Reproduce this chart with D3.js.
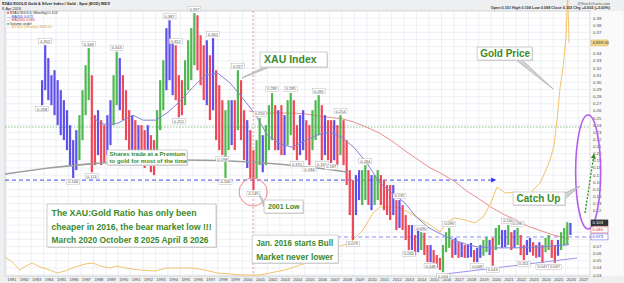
<!DOCTYPE html>
<html>
<head>
<meta charset="utf-8">
<script src="https://cdn.jsdelivr.net/npm/d3@7"></script>
<style>
  body { margin: 0; background: #fff; }
  svg { display: block; font-family: "Liberation Sans", Arial, sans-serif; }
</style>
</head>
<body>
<div id="chart"></div>
<script>
// ---- data ----
// quarterly bars of the $XAU:$GOLD ratio, the first one is 1983 Q4
const firstQuarter = 1983.75

const ratioHigh = [
  .303, .352, .334, .310, .317, .303, .289, .275, .261, .240,
  .219, .233, .254, .289, .324, .348, .310, .254, .261, .247,
  .240, .254, .275, .310, .343, .334, .310, .289, .261, .254,
  .247, .240, .240, .233, .240, .226, .219, .261, .303, .331,
  .376, .387, .359, .352, .310, .303, .331, .359, .376, .397,
  .394, .366, .352, .359, .338, .362, .317, .296, .275, .261,
  .275, .275, .275, .317, .303, .261, .247, .233, .205, .219,
  .250, .226, .240, .268, .285, .268, .261, .268, .254, .275,
  .285, .275, .240, .254, .261, .247, .240, .261, .275, .282,
  .268, .254, .247, .247, .247, .240, .254, .247, .219, .177,
  .163, .170, .177, .177, .184, .177, .170, .170, .177, .170,
  .163, .156, .156, .156, .135, .135, .128, .114, .100, .100,
  .086, .093, .090, .089, .072, .072, .065, .058, .054, .072,
  .090, .096, .079, .082, .076, .075, .072, .072, .075, .065,
  .068, .072, .079, .083, .079, .082, .096, .100, .093, .093,
  .100, .090, .093, .096, .086, .072, .079, .082, .076, .072,
  .076, .072, .082, .086, .079, .072, .079, .090, .096, .104,
  .103
]
const ratioLow = [
  .268, .289, .275, .268, .254, .240, .226, .219, .205, .184,
  .166, .177, .191, .219, .254, .275, .174, .184, .198, .184,
  .188, .198, .212, .240, .268, .261, .247, .219, .205, .198,
  .191, .191, .184, .180, .184, .174, .170, .191, .233, .261,
  .289, .303, .282, .275, .251, .254, .268, .289, .303, .324,
  .317, .296, .275, .268, .247, .261, .219, .205, .198, .166,
  .205, .212, .205, .233, .219, .191, .180, .166, .149, .166,
  .184, .174, .184, .205, .219, .205, .205, .198, .198, .212,
  .226, .205, .191, .198, .205, .191, .184, .205, .219, .226,
  .191, .198, .191, .187, .191, .184, .198, .184, .156, .114,
  .079, .114, .135, .128, .135, .128, .121, .128, .135, .128,
  .121, .114, .107, .114, .093, .096, .093, .079, .065, .065,
  .058, .062, .065, .058, .048, .048, .047, .040, .037, .034,
  .062, .068, .054, .058, .054, .055, .054, .054, .055, .048,
  .048, .054, .057, .062, .058, .043, .065, .072, .068, .069,
  .072, .065, .068, .072, .058, .051, .058, .062, .057, .054,
  .055, .047, .062, .065, .054, .047, .057, .065, .072, .072,
  .086
]
// b = neutral (blue), r = bearish (red), g = bullish (green)
const barColors = ("bbbbbbbbbbbb" + "ggggrrbrrbbgg" + "brrrbrbrrbrr" + "gggbbbrrrgggg" +
  "rrrbrbrrrggbrgrrbrr" + "ggbgggrbrbggrrbbrrgggrbrrbrg" +
  "rrrrbbggrbggrrrrbrbrrrbrbgrrbrrr" + "gggrbrbrbbrbbggbrggbbgrbgrrbbrrbrggrrbgggb").split("")

// labelled highs and lows: [bar index, "h" | "l"]
const pivots = [[1, "h"], [0, "l"], [10, "l"], [15, "h"], [16, "l"], [24, "h"], [41, "h"], [43, "h"],
  [44, "l"], [49, "h"], [55, "h"], [58, "l"], [59, "l"], [63, "h"], [68, "l"], [70, "h"], [74, "h"],
  [80, "h"], [82, "l"], [86, "l"], [89, "h"], [90, "l"], [93, "l"], [96, "h"], [100, "l"], [104, "h"],
  [115, "h"], [118, "l"], [122, "h"], [125, "l"], [129, "l"], [131, "h"], [140, "l"], [145, "l"],
  [150, "h"], [153, "h"], [155, "l"], [161, "l"], [165, "l"]]

const ma50Dates = [1988, 1988.5, 1989.3, 1990, 1991.2, 1992, 1993, 1994, 1995, 1996, 1997, 1998, 1999,
  2000, 2001, 2002, 2003, 2004, 2005, 2006, 2007, 2008, 2009, 2010, 2011, 2012, 2013, 2014, 2015,
  2016, 2017, 2018, 2019, 2020, 2021, 2022, 2023, 2024, 2025, 2026, 2026.27]
const ma50Values = [.251, .243, .240, .243, .254, .247, .247, .258, .274, .293, .310, .313, .299,
  .278, .256, .226, .214, .209, .218, .226, .230, .223, .208, .187, .160, .145, .132, .111, .096,
  .087, .079, .073, .069, .068, .068, .068, .069, .069, .071, .072, .073]

const ma200Dates = [2000.5, 2001, 2002, 2003, 2004, 2005, 2006, 2007, 2008, 2009, 2010, 2011, 2012,
  2013, 2014, 2015, 2016, 2017, 2018, 2019, 2020, 2021, 2022, 2023, 2024, 2025, 2026, 2026.27]
const ma200Values = [.260, .258, .257, .257, .257, .256, .253, .251, .249, .244, .237, .229, .218,
  .205, .193, .181, .172, .162, .148, .137, .125, .115, .107, .098, .092, .086, .082, .080]

const goldDates = [1980.89, 1981.46, 1982.1, 1982.58, 1983.07, 1983.71, 1984.51, 1985.08, 1985.72,
  1986.53, 1987.33, 1987.97, 1988.54, 1989.34, 1989.9, 1990.55, 1991.75, 1992.96, 1993.92, 1994.97,
  1995.94, 1996.98, 1997.95, 1999.0, 1999.8, 2000.6, 2001.41, 2002.21, 2003.42, 2004.63, 2006.0,
  2006.8, 2007.6, 2008.65, 2009.69, 2010.5, 2011.06, 2011.87, 2012.43, 2013.48, 2014.28, 2014.84,
  2015.89, 2016.45, 2017.1, 2017.9, 2018.7, 2019.35, 2019.91, 2020.47, 2021.12, 2021.92, 2022.49,
  2022.89, 2023.37, 2023.93, 2024.34, 2024.74, 2025.06, 2025.3, 2025.54, 2025.78, 2026.03, 2026.15,
  2026.27]
const goldValues = [615, 517, 359, 438, 497, 418, 359, 299, 339,
  418, 477, 497, 438, 398, 438, 398, 359, 339, 398, 398,
  398, 359, 299, 280, 260, 260, 260, 299, 359, 457, 556,
  655, 813, 891, 1148, 1484, 1602, 1602, 1602, 1484, 1365, 1286,
  1109, 1306, 1385, 1345, 1286, 1405, 1642, 1997, 1878, 1898, 1780,
  1740, 1938, 2076, 2293, 2530, 2826, 3319, 3951, 4345, 4997, 5786,
  4839]

const lastClose = 0.103
const yTicks = [0.03, 0.04, 0.05, 0.06, 0.07, 0.08, 0.09, 0.10, 0.11, 0.12, 0.13, 0.14, 0.15, 0.16,
  0.17, 0.18, 0.19, 0.20, 0.21, 0.22, 0.23, 0.24, 0.25, 0.26, 0.27, 0.28, 0.29, 0.30, 0.31, 0.32,
  0.33, 0.34, 0.35, 0.36, 0.37, 0.38, 0.39]
const years = d3.range(1981, 2028)

// ---- chart ----
const width = 624, height = 283
const margin = { top: 11, right: 34, bottom: 7, left: 5 }
const green = "#3b8a2d"

const x = d3.scaleLinear().domain([1980.89, 2027.95]).range([margin.left, width - margin.right])
const y = d3.scaleLinear().domain([0.03, 0.40]).range([275, margin.top])
const yGold = d3.scaleLinear().domain([260, 5470]).range([275, margin.top])

const bars = ratioHigh.map((h, i) => ({
  t: firstQuarter + i * 0.25 + 0.125, high: h, low: ratioLow[i], c: barColors[i] || "b"
}))
const barFill = { b: "#5f50ec", r: "#ef4858", g: "#50b850" }
const fmt = d3.format(".3f")
const lastGold = goldValues[goldValues.length - 1]

// value tags on the right axis
const tags = [
  { text: d3.format(",.2f")(lastGold), y: yGold(lastGold), fill: "#f4d98e", stroke: "#d9b24c", color: "#333" },
  { text: fmt(lastClose), y: y(lastClose), fill: "#333", stroke: "#333", color: "#fff" },
  { text: fmt(ma200Values[ma200Values.length - 1]), y: y(lastClose) + 7, fill: "#fff", stroke: "#e05050", color: "#d03030" },
  { text: fmt(ma50Values[ma50Values.length - 1]), y: y(lastClose) + 14, fill: "#fff", stroke: "#5050e0", color: "#3030d0" }
]

const svg = d3.select("#chart").append("svg")
  .attr("width", width)
  .attr("height", height)

svg.append("rect").attr("width", width).attr("height", height).attr("fill", "#eeeff1")
svg.append("rect")
  .attr("x", margin.left).attr("y", margin.top)
  .attr("width", width - margin.left - margin.right)
  .attr("height", height - margin.top - margin.bottom)
  .attr("fill", "#fff").attr("stroke", "#b8b8b8").attr("stroke-width", 0.6)
svg.append("rect")
  .attr("x", width - margin.right + 0.5).attr("y", margin.top)
  .attr("width", margin.right - 1).attr("height", height - margin.top - margin.bottom)
  .attr("fill", "#fafafa")

// grid
svg.append("g").attr("stroke", "#e2e5ee").attr("stroke-width", 0.6)
  .selectAll("line").data(years).join("line")
  .attr("x1", d => x(d)).attr("x2", d => x(d))
  .attr("y1", margin.top).attr("y2", height - margin.bottom)
svg.append("g").attr("stroke", "#e2e5ee").attr("stroke-width", 0.6)
  .selectAll("line").data(yTicks).join("line")
  .attr("x1", margin.left).attr("x2", width - margin.right)
  .attr("y1", d => y(d)).attr("y2", d => y(d))

// axes text (tick labels hidden behind a value tag are left out)
svg.append("g").attr("font-size", 4.3).attr("fill", "#444")
  .selectAll("text").data(yTicks.filter(v => tags.every(t => Math.abs(t.y - y(v)) > 5)))
  .join("text")
  .attr("x", width - margin.right + 3).attr("y", d => y(d)).attr("dy", "0.35em")
  .text(d3.format(".2f"))
svg.append("g").attr("font-size", 4).attr("fill", "#444")
  .selectAll("text").data(years).join("text")
  .attr("x", d => x(d) + 1).attr("y", height - 2)
  .text(d => d)

// reference lines
const ref = svg.append("g").attr("fill", "none")
ref.append("line")
  .attr("x1", x(2000.85)).attr("x2", x(2000.85))
  .attr("y1", margin.top).attr("y2", height - margin.bottom)
  .attr("stroke", "#f07070").attr("stroke-width", 0.8).attr("stroke-dasharray", "2,2")
ref.append("line")
  .attr("x1", margin.left).attr("x2", width - margin.right)
  .attr("y1", y(0.2374)).attr("y2", y(0.2374))
  .attr("stroke", "#6cb86c").attr("stroke-width", 0.8).attr("stroke-dasharray", "1.5,1.5")
ref.append("line")
  .attr("x1", x(2007.04)).attr("x2", width - 26)
  .attr("y1", y(0.0833)).attr("y2", y(0.0833))
  .attr("stroke", "#8d8cf0").attr("stroke-width", 1).attr("stroke-dasharray", "4,3")
ref.append("line")
  .attr("x1", margin.left).attr("x2", x(2020.0))
  .attr("y1", y(0.163)).attr("y2", y(0.163))
  .attr("stroke", "#4848f0").attr("stroke-width", 1).attr("stroke-dasharray", "4,3")
svg.append("path")
  .attr("d", `M${x(2020.0)},${y(0.163) - 2.5}L${x(2020.0) + 5},${y(0.163)}L${x(2020.0)},${y(0.163) + 2.5}Z`)
  .attr("fill", "#3030f0")

// moving averages and gold
const line = (xs, sy) => d3.line().x((d, i) => x(xs[i])).y(d => sy(d))
svg.append("path").datum(ma200Values)
  .attr("fill", "none").attr("stroke", "#ec8c8c").attr("stroke-width", 1)
  .attr("d", line(ma200Dates, y))
svg.append("path").datum(goldValues)
  .attr("fill", "none").attr("stroke", "#f2c36a").attr("stroke-width", 1)
  .attr("d", line(goldDates, yGold))

// ratio bars
svg.append("g")
  .selectAll("rect").data(bars).join("rect")
  .attr("x", d => x(d.t) - 1.1)
  .attr("y", d => y(d.high))
  .attr("width", 2.2)
  .attr("height", d => y(d.low) - y(d.high))
  .attr("fill", d => barFill[d.c])

svg.append("path").datum(ma50Values)
  .attr("fill", "none").attr("stroke", "#8282d6").attr("stroke-width", 1)
  .attr("d", line(ma50Dates, y))

// trend lines
svg.append("path")
  .attr("d", `M${x(1980.89)},${y(0.1715)}Q${x(1994.65)},${y(0.2094)} ${x(2008.41)},${y(0.1743)}`)
  .attr("fill", "none").attr("stroke", "#9c9c9c").attr("stroke-width", 1.4)
svg.append("line")
  .attr("x1", x(2015.65)).attr("y1", y(0.030))
  .attr("x2", x(2026.91)).attr("y2", y(0.0538))
  .attr("stroke", "#9a90f0").attr("stroke-width", 1)

// pivot labels
const pl = svg.append("g").selectAll("g").data(pivots).join("g")
  .attr("transform", ([i, k]) => {
    const b = bars[i]
    return k === "h" ? `translate(${x(b.t)},${y(b.high) - 4})` : `translate(${x(b.t)},${y(b.low) + 4})`
  })
pl.append("rect").attr("x", -6.5).attr("y", -2.6).attr("width", 13).attr("height", 5.2)
  .attr("fill", "#fff").attr("stroke", "#aaa").attr("stroke-width", 0.4)
pl.append("text").attr("text-anchor", "middle").attr("dy", "0.35em")
  .attr("font-size", 4).attr("fill", "#555")
  .text(([i, k]) => fmt(k === "h" ? bars[i].high : bars[i].low))

// circle around the 2001 low, ellipse and arrow on the right
svg.append("circle")
  .attr("cx", x(2000.85)).attr("cy", y(0.1463)).attr("r", 14)
  .attr("fill", "none").attr("stroke", "#f08a8a").attr("stroke-width", 1)
svg.append("ellipse")
  .attr("cx", x(2027.8)).attr("cy", y(0.1744)).attr("rx", 12.5).attr("ry", 57)
  .attr("fill", "none").attr("stroke", "#b25ff0").attr("stroke-width", 1.6)
svg.append("defs").append("marker")
  .attr("id", "head").attr("viewBox", "0 0 10 10").attr("refX", 5).attr("refY", 5)
  .attr("markerWidth", 4).attr("markerHeight", 4).attr("orient", "auto")
  .append("path").attr("d", "M0,0L10,5L0,10Z").attr("fill", "#2e8b2e")
svg.append("line")
  .attr("x1", x(2027.55)).attr("y1", y(0.1169))
  .attr("x2", x(2028.25)).attr("y2", y(0.1968))
  .attr("stroke", "#2e8b2e").attr("stroke-width", 1.3).attr("stroke-dasharray", "2,1.5")
  .attr("marker-end", "url(#head)")

// callouts
function callout(c) {
  const bx = x(c.at[0]), by = y(c.at[1])
  const g = svg.append("g")
  if (c.tip) {
    const tx = x(c.tip[0]), ty = y(c.tip[1])
    const [dx, dy] = c.base
    const pts = (dy === 0 || dy === c.h)
      ? [[bx + dx - 3, by + dy], [bx + dx + 3, by + dy], [tx, ty]]
      : [[bx + dx, by + dy - 3], [bx + dx, by + dy + 3], [tx, ty]]
    g.append("polygon").attr("points", pts.join(" "))
      .attr("fill", "#d4d4d4").attr("stroke", "#9a9a9a").attr("stroke-width", 0.6)
  }
  g.append("rect").attr("x", bx + 1).attr("y", by + 1).attr("width", c.w).attr("height", c.h)
    .attr("fill", "#d8d8d8")
  g.append("rect").attr("x", bx).attr("y", by).attr("width", c.w).attr("height", c.h)
    .attr("fill", "#fff").attr("stroke", "#bdbdbd").attr("stroke-width", 0.7)
  const txt = g.append("g").attr("font-size", c.size).attr("font-weight", "bold").attr("fill", green)
    .selectAll("text").data(c.lines).join("text")
    .attr("x", bx + c.pad).attr("y", (d, i) => by + c.first + i * c.lh)
    .text(d => d)
  if (c.fit) txt.attr("textLength", (d, i) => c.fit[i]).attr("lengthAdjust", "spacingAndGlyphs")
}

callout({ at: [2001.41, 0.3425], w: 67, h: 15, lines: ["XAU Index"], size: 10.5, pad: 4, first: 11.3, lh: 0,
  tip: [1999.96, 0.3061], base: [7, 15] })
callout({ at: [2018.87, 0.3495], w: 55, h: 13, lines: ["Gold Price"], size: 10, pad: 3, first: 10, lh: 0,
  tip: [2024.98, 0.2907], base: [42, 13] })
callout({ at: [2021.76, 0.1463], w: 52, h: 13, lines: ["Catch Up"], size: 10, pad: 3.5, first: 10, lh: 0,
  tip: [2027.15, 0.1547], base: [52, 4] })
callout({ at: [1989.1, 0.2052], w: 80, h: 15, lines: ["Shares trade at a Premium", "to gold for most of the time"],
  size: 6, pad: 2.5, first: 6, lh: 7 })
callout({ at: [2001.73, 0.1351], w: 39, h: 13, lines: ["2001 Low"], size: 7, pad: 4, first: 9, lh: 0,
  tip: [2001.35, 0.1420], base: [0, 4] })
callout({ at: [1984.27, 0.1295], w: 169, h: 43,
  lines: ["The XAU:Gold Ratio has only been", "cheaper in 2016, the bear market low !!!",
    "March 2020 October 8 2025 April 8 2026"],
  size: 8.8, pad: 4.5, first: 12, lh: 13.5, fit: [145, 160, 157] })
callout({ at: [2000.77, 0.0860], w: 86, h: 28, lines: ["Jan. 2016 starts Bull", "Market never lower"],
  size: 8.6, pad: 4, first: 11, lh: 13.5, fit: [77, 77] })

const tg = svg.append("g").selectAll("g").data(tags).join("g")
  .attr("transform", d => `translate(${width - margin.right + 1},${d.y})`)
tg.append("rect").attr("y", -3).attr("width", 17).attr("height", 6)
  .attr("fill", d => d.fill).attr("stroke", d => d.stroke).attr("stroke-width", 0.5)
tg.append("text").attr("x", 1.5).attr("dy", "0.35em").attr("font-size", 4.2)
  .attr("fill", d => d.color).text(d => d.text)

// header and legend
svg.append("text").attr("x", 2).attr("y", 5).attr("font-size", 4.2).attr("font-weight", "bold")
  .attr("fill", "#222").attr("textLength", 108).attr("lengthAdjust", "spacingAndGlyphs")
  .text("$XAU:$GOLD Gold & Silver Index / Gold - Spot (EOD) INDX")
svg.append("text").attr("x", 2).attr("y", 9.6).attr("font-size", 3.8).attr("fill", "#333")
  .text("8-Apr-2026")
svg.append("text").attr("x", 610).attr("y", 4.5).attr("font-size", 3.8).attr("fill", "#555")
  .attr("text-anchor", "end").text("@StockCharts.com")
svg.append("text").attr("x", 610).attr("y", 9).attr("font-size", 3.8).attr("fill", "#333")
  .attr("text-anchor", "end").attr("font-weight", "bold")
  .text("Open 0.101  High 0.106  Low 0.098  Close 0.103  Chg +0.003 (+3.00%)")

const legendItems = [
  { mark: "■", color: "#ef4858", text: "$XAU:$GOLD (Monthly) " + fmt(lastClose), textColor: "#333" },
  { mark: "—", color: "#5050e0", text: "MA(50) " + fmt(ma50Values[ma50Values.length - 1]), textColor: "#3030d0" },
  { mark: "—", color: "#e05050", text: "MA(200) " + fmt(ma200Values[ma200Values.length - 1]), textColor: "#d03030" },
  { mark: "■", color: "#50b850", text: "Volume undef", textColor: "#333" },
  { mark: "—", color: "#e8b040", text: "$GOLD (Weekly) " + d3.format(".2f")(lastGold), textColor: "#d9a030" }
]
const lg = svg.append("g").selectAll("text").data(legendItems).join("text")
  .attr("x", 7).attr("y", (d, i) => 14 + i * 3.5).attr("font-size", 3.5)
lg.append("tspan").attr("fill", d => d.color).text(d => d.mark + " ")
lg.append("tspan").attr("fill", d => d.textColor).text(d => d.text)
</script>
</body>
</html>
